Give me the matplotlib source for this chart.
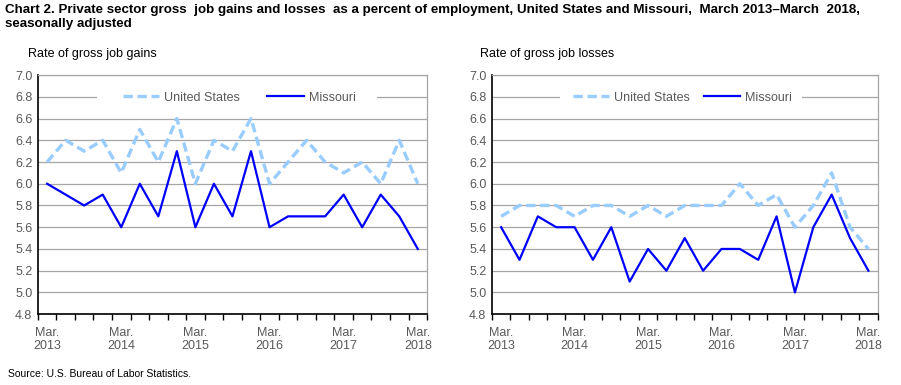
import matplotlib.pyplot as plt
from matplotlib.patches import Rectangle

quarters = list(range(21))
tick_labels = ["Mar.\n2013", "Mar.\n2014", "Mar.\n2015", "Mar.\n2016", "Mar.\n2017", "Mar.\n2018"]

gains_us = [6.2, 6.4, 6.3, 6.4, 6.1, 6.5, 6.2, 6.6, 6.0, 6.4, 6.3, 6.6, 6.0, 6.2, 6.4, 6.2, 6.1, 6.2, 6.0, 6.4, 6.0]
gains_mo = [6.0, 5.9, 5.8, 5.9, 5.6, 6.0, 5.7, 6.3, 5.6, 6.0, 5.7, 6.3, 5.6, 5.7, 5.7, 5.7, 5.9, 5.6, 5.9, 5.7, 5.4]

losses_us = [5.7, 5.8, 5.8, 5.8, 5.7, 5.8, 5.8, 5.7, 5.8, 5.7, 5.8, 5.8, 5.8, 6.0, 5.8, 5.9, 5.6, 5.8, 6.1, 5.6, 5.4]
losses_mo = [5.6, 5.3, 5.7, 5.6, 5.6, 5.3, 5.6, 5.1, 5.4, 5.2, 5.5, 5.2, 5.4, 5.4, 5.3, 5.7, 5.0, 5.6, 5.9, 5.5, 5.2]

plt.rcParams["font.family"] = ["Liberation Sans", "DejaVu Sans"]

text_grey = "#595959"
grid_grey = "#a6a6a6"

fig = plt.figure(figsize=(9.01, 3.85), dpi=100)

fig.text(0.006, 0.99, "Chart 2. Private sector gross  job gains and losses  as a percent of employment, United States and Missouri,  March 2013\u2013March  2018,\nseasonally adjusted",
         fontsize=9.6, fontweight="bold", va="top", ha="left", linespacing=1.2)
fig.text(0.009, 0.022, "Source: U.S. Bureau of Labor Statistics.", fontsize=7.5, color="black")


def panel(rect, us, mo, subtitle, sub_x, blank, leg_x, colspace):
    ax = fig.add_axes(rect)
    ax.plot(quarters, us, color="#99ccff", lw=2.4, dashes=(2.8, 1.4), label="United States", zorder=3)
    ax.plot(quarters, mo, color="#0000ff", lw=1.6, label="Missouri", zorder=4)
    ax.set_xlim(-0.5, 20.5)
    ax.set_ylim(4.8, 7.0)
    ax.set_yticks([4.8 + 0.2 * i for i in range(12)])
    ax.set_yticklabels([f"{4.8 + 0.2 * i:.1f}" for i in range(12)])
    ax.set_xticks(range(0, 21, 4))
    ax.set_xticklabels(tick_labels)
    ax.set_xticks([k + 0.5 for k in range(-1, 21)], minor=True)
    ax.tick_params(axis="x", which="major", length=0, pad=9, labelsize=9, labelcolor=text_grey)
    ax.tick_params(axis="x", which="minor", length=4, width=1, color="black", direction="out")
    ax.tick_params(axis="y", length=0, pad=4, labelsize=9, labelcolor=text_grey)
    ax.grid(axis="y", color=grid_grey, lw=0.9)
    ax.set_axisbelow(True)
    for s in ("top", "right"):
        ax.spines[s].set_color(grid_grey)
        ax.spines[s].set_linewidth(0.9)
    for s in ("left", "bottom"):
        ax.spines[s].set_color("black")
        ax.spines[s].set_linewidth(1.2)
    # white box behind the legend, hiding the 6.8 gridline
    ax.add_patch(Rectangle((blank[0], 0.87), blank[1] - blank[0], 0.08, transform=ax.transAxes,
                           facecolor="white", edgecolor="none", zorder=1.5))
    leg = ax.legend(loc="center", bbox_to_anchor=(leg_x, 0.905), ncol=2, frameon=False,
                    fontsize=9, handlelength=2.9, columnspacing=colspace, handletextpad=0.4,
                    borderpad=0.2, borderaxespad=0)
    for t in leg.get_texts():
        t.set_color(text_grey)
    fig.text(sub_x, 0.843, subtitle, fontsize=9, color="black", ha="left", va="bottom")
    return ax


panel([0.042, 0.184, 0.432, 0.621], gains_us, gains_mo, "Rate of gross job gains",
      0.031, (0.152, 0.871), 0.517, 2.2)
panel([0.546, 0.184, 0.428, 0.621], losses_us, losses_mo, "Rate of gross job losses",
      0.533, (0.176, 0.803), 0.494, 1.1)

fig.savefig("out.png", dpi=100)
